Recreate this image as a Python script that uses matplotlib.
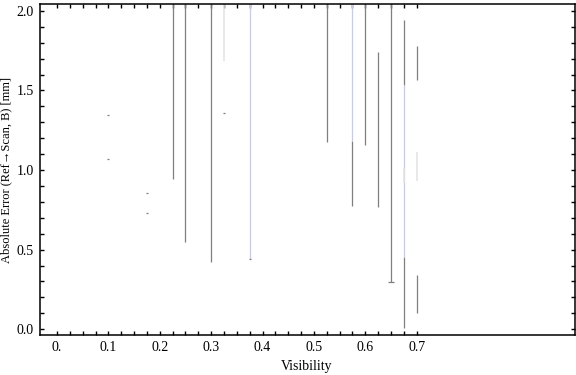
import matplotlib
matplotlib.use("Agg")
import matplotlib.pyplot as plt
import numpy as np

# Visibility positions and segment ranges (absolute error, mm)
gray_x = [0.225, 0.25, 0.3, 0.525, 0.575, 0.6, 0.625, 0.65, 0.675, 0.675, 0.7, 0.7]
gray_lo = [0.942, 0.550, 0.425, 1.178, 0.776, 1.158, 0.770, 0.295, 1.535, 0.006, 1.565, 0.104]
gray_hi = [2.5, 2.5, 2.5, 2.5, 1.182, 2.5, 1.742, 2.5, 1.943, 0.456, 1.780, 0.341]

blue_x = [0.375, 0.575, 0.675]
blue_lo = [0.440, 1.182, 0.456]
blue_hi = [2.5, 2.5, 1.535]

faint_x = [0.325, 0.675, 0.7]
faint_lo = [1.687, 0.919, 0.933]
faint_hi = [2.5, 1.012, 1.116]

# small end marks
cap_x = [0.1, 0.1, 0.175, 0.175, 0.325, 0.375]
cap_y = [1.344, 1.068, 0.854, 0.729, 1.357, 0.440]
wide_cap_x = [0.65]
wide_cap_y = [0.295]

x_ticks = [0.0, 0.1, 0.2, 0.3, 0.4, 0.5, 0.6, 0.7]
x_labels = ["0.", "0.1", "0.2", "0.3", "0.4", "0.5", "0.6", "0.7"]
y_ticks = [0.0, 0.5, 1.0, 1.5, 2.0]
y_labels = ["0.0", "0.5", "1.0", "1.5", "2.0"]

plt.rcParams["font.family"] = ["Liberation Serif", "DejaVu Serif"]

fig = plt.figure(figsize=(5.76, 3.75), dpi=100)
ax = fig.add_axes([0.0686, 0.1067, 0.9288, 0.8818])

gray = "#7f7f7f"
ax.vlines(gray_x, gray_lo, gray_hi, color=gray, lw=0.9)
ax.vlines(blue_x, blue_lo, blue_hi, color="#c6cbee", lw=0.9)
ax.vlines(faint_x, faint_lo, faint_hi, color="#e4e4e4", lw=1.2)
ax.plot(cap_x, cap_y, ls="none", marker="_", ms=1.8, mew=0.9, color=gray)
ax.plot(wide_cap_x, wide_cap_y, ls="none", marker="_", ms=4.5, mew=0.9, color=gray)

ax.set_xlim(-0.034, 1.007)
ax.set_ylim(-0.036, 2.041)

ax.set_xticks(x_ticks)
ax.set_xticklabels(x_labels)
ax.set_xticks(np.arange(0, 0.7001, 0.025), minor=True)
ax.set_yticks(y_ticks)
ax.set_yticklabels(y_labels)
ax.set_yticks(np.arange(0, 2.0001, 0.1), minor=True)

ax.tick_params(which="both", direction="in", top=True, right=True,
               width=1.0, labelsize=10)
ax.tick_params(which="major", length=3.2, pad=4)
ax.tick_params(which="minor", length=2.6)
for s in ax.spines.values():
    s.set_linewidth(1.1)

ax.set_xlabel("Visibility", fontsize=10, labelpad=5)
ax.set_ylabel("Absolute Error (Ref\u2192Scan, B) [mm]", fontsize=9, labelpad=3)

fig.savefig("out.png", dpi=100)
